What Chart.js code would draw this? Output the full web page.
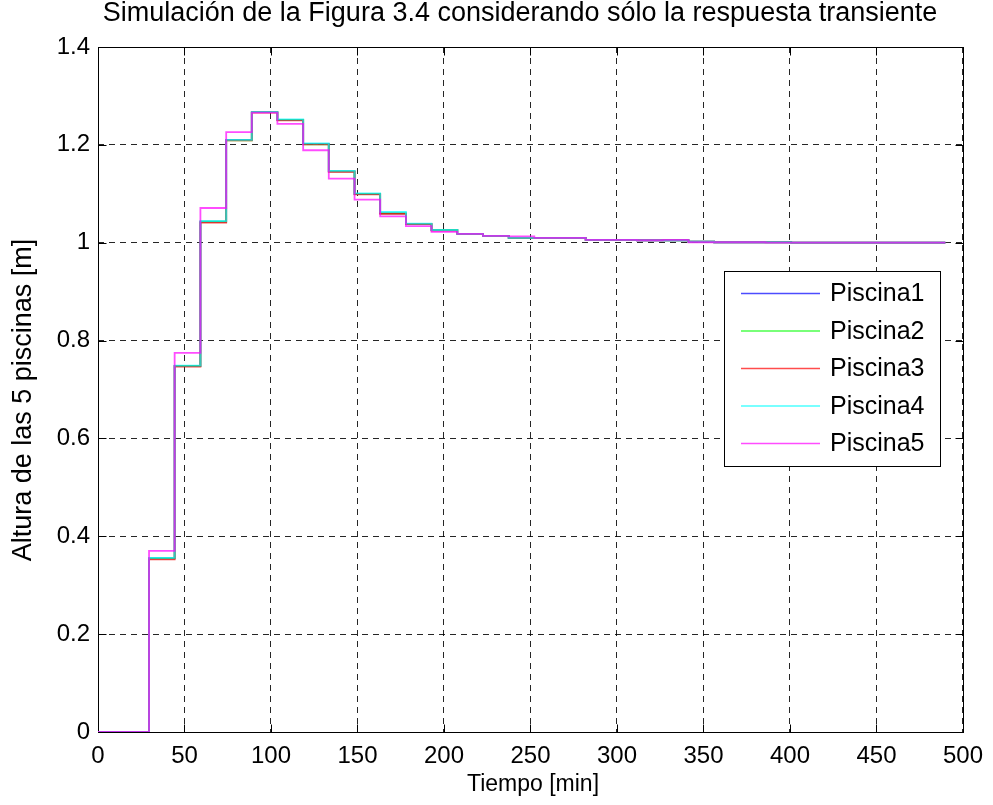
<!DOCTYPE html>
<html>
<head>
<meta charset="utf-8">
<script src="https://cdn.jsdelivr.net/npm/chart.js@4.4.1/dist/chart.umd.min.js"></script>
<style>
  html, body { margin: 0; padding: 0; background: #fff; overflow: hidden; }
  canvas { display: block; }
</style>
</head>
<body>
<canvas id="grafico" width="993" height="805"></canvas>
<script>
// Instantes de muestreo [min] (escalones de la simulación)
const tiempo = [0, 29.5, 44.3, 59.2, 74.1, 88.9, 103.7, 118.6, 133.4, 148.3, 163.1,
  178.0, 192.8, 207.7, 222.5, 237.4, 252.2, 267.1, 281.9, 296.8, 311.6, 326.5,
  341.3, 356.2, 371.0, 385.9, 400.7, 415.6, 430.4, 445.3, 460.1, 475.0, 489.8];

// Altura de cada piscina [m]
const piscina1 = [0, 0.355, 0.748, 1.043, 1.210, 1.267, 1.251, 1.202, 1.146, 1.100, 1.060,
  1.038, 1.026, 1.018, 1.014, 1.010, 1.010, 1.010, 1.006, 1.006, 1.005, 1.005,
  1.002, 1.001, 1.001, 1.001, 1.000, 1.000, 1.000, 1.000, 1.000, 1.000, 1.000];
const piscina2 = [0, 0.355, 0.748, 1.043, 1.209, 1.267, 1.251, 1.201, 1.146, 1.100, 1.060,
  1.038, 1.026, 1.018, 1.014, 1.010, 1.010, 1.010, 1.006, 1.006, 1.005, 1.005,
  1.002, 1.001, 1.001, 1.001, 1.000, 1.000, 1.000, 1.000, 1.000, 1.000, 1.000];
const piscina3 = [0, 0.353, 0.747, 1.041, 1.209, 1.266, 1.250, 1.201, 1.145, 1.099, 1.059,
  1.038, 1.025, 1.018, 1.014, 1.010, 1.010, 1.010, 1.006, 1.006, 1.005, 1.005,
  1.002, 1.001, 1.001, 1.001, 1.000, 1.000, 1.000, 1.000, 1.000, 1.000, 1.000];
const piscina4 = [0, 0.356, 0.749, 1.044, 1.210, 1.267, 1.252, 1.203, 1.147, 1.101, 1.063,
  1.039, 1.026, 1.018, 1.014, 1.010, 1.010, 1.010, 1.006, 1.006, 1.005, 1.005,
  1.002, 1.001, 1.001, 1.001, 1.000, 1.000, 1.000, 1.000, 1.000, 1.000, 1.000];
const piscina5 = [0, 0.370, 0.775, 1.071, 1.226, 1.266, 1.243, 1.189, 1.131, 1.088, 1.054,
  1.034, 1.022, 1.018, 1.014, 1.013, 1.010, 1.010, 1.006, 1.006, 1.005, 1.006,
  1.001, 1.001, 1.001, 1.000, 1.000, 1.000, 1.000, 1.000, 1.000, 1.000, 1.000];

const nombresSeries = ['Piscina1', 'Piscina2', 'Piscina3', 'Piscina4', 'Piscina5'];
const coloresSeries = ['rgba(0,0,255,0.7)', 'rgba(0,255,0,0.7)', 'rgba(255,0,0,0.7)',
  'rgba(0,255,255,0.7)', 'rgba(255,0,255,0.7)'];

const etiquetasX = ['0', '50', '100', '150', '200', '250', '300', '350', '400', '450', '500'];
const etiquetasY = ['0', '0.2', '0.4', '0.6', '0.8', '1', '1.2', '1.4'];

const tituloGrafico = 'Simulación de la Figura 3.4 considerando sólo la respuesta transiente';
const tituloEjeX = 'Tiempo [min]';
const tituloEjeY = 'Altura de las 5 piscinas [m]';

const FUENTE = '"Liberation Sans", Arial, Helvetica, sans-serif';

const valores = [piscina1, piscina2, piscina3, piscina4, piscina5];
const datasets = valores.map((serie, i) => ({
  label: nombresSeries[i],
  data: tiempo.map((t, k) => ({ x: t, y: serie[k] })),
  borderColor: coloresSeries[i],
  backgroundColor: coloresSeries[i],
  borderWidth: 1.8,
  stepped: 'before',
  pointRadius: 0,
  pointHoverRadius: 0,
  fill: false,
  order: nombresSeries.length - i   // la última serie queda encima
}));

// Marco tipo MATLAB: caja con marcas interiores (bajo las curvas), títulos y leyenda
const marcoPlugin = {
  id: 'marco',
  beforeDatasetsDraw(chart) {
    const ctx = chart.ctx;
    const a = chart.chartArea;
    const sx = chart.scales.x, sy = chart.scales.y;
    const L = Math.round(a.left) + 0.5, R = Math.round(a.right) + 0.5;
    const T = Math.round(a.top) + 0.5, B = Math.round(a.bottom) + 0.5;
    ctx.save();
    ctx.strokeStyle = '#000';
    ctx.lineWidth = 1;
    ctx.setLineDash([]);
    ctx.strokeRect(L, T, R - L, B - T);
    const largo = 8;
    ctx.beginPath();
    sx.ticks.forEach(tk => {
      const px = Math.round(sx.getPixelForValue(tk.value)) + 0.5;
      ctx.moveTo(px, B); ctx.lineTo(px, B - largo);
      ctx.moveTo(px, T); ctx.lineTo(px, T + largo);
    });
    sy.ticks.forEach(tk => {
      const py = Math.round(sy.getPixelForValue(tk.value)) + 0.5;
      ctx.moveTo(L, py); ctx.lineTo(L + largo, py);
      ctx.moveTo(R, py); ctx.lineTo(R - largo, py);
    });
    ctx.stroke();
    ctx.restore();
  },
  afterDraw(chart) {
    const ctx = chart.ctx;
    ctx.save();
    // títulos
    ctx.fillStyle = '#000';
    ctx.textAlign = 'center';
    ctx.textBaseline = 'middle';
    ctx.font = '27px ' + FUENTE;
    ctx.fillText(tituloGrafico, 520, 14);
    ctx.font = '23px ' + FUENTE;
    ctx.fillText(tituloEjeX, 533, 785);
    ctx.save();
    ctx.translate(24, 400);
    ctx.rotate(-Math.PI / 2);
    ctx.font = '27px ' + FUENTE;
    ctx.fillText(tituloEjeY, 0, 0);
    ctx.restore();

    // leyenda
    const lx = 724.5, ly = 271.5, lw = 216, lh = 195;
    ctx.fillStyle = '#fff';
    ctx.fillRect(lx, ly, lw, lh);
    ctx.strokeStyle = '#000';
    ctx.lineWidth = 1;
    ctx.strokeRect(lx, ly, lw, lh);
    ctx.font = '25px ' + FUENTE;
    ctx.textAlign = 'left';
    chart.data.datasets.forEach((ds, i) => {
      const yy = 293.5 + i * 37.5;
      ctx.strokeStyle = ds.borderColor;
      ctx.lineWidth = 1.6;
      ctx.beginPath();
      ctx.moveTo(741, yy); ctx.lineTo(820, yy);
      ctx.stroke();
      ctx.fillStyle = '#000';
      ctx.fillText(ds.label, 830, yy + 1);
    });
    ctx.restore();
  }
};

new Chart(document.getElementById('grafico'), {
  type: 'line',
  data: { datasets },
  options: {
    responsive: false,
    devicePixelRatio: 1,
    animation: false,
    events: [],
    layout: { padding: { top: 47, right: 24, bottom: 0, left: 0 } },
    plugins: { legend: { display: false }, title: { display: false }, tooltip: { enabled: false } },
    scales: {
      x: {
        type: 'linear',
        min: 0, max: 500,
        afterFit: s => { s.height = 73; },
        ticks: {
          stepSize: 50,
          padding: 10,
          color: '#000',
          font: { family: FUENTE, size: 24 },
          maxRotation: 0,
          callback: (v, i) => etiquetasX[i]
        },
        grid: { color: 'rgba(0,0,0,0.85)', lineWidth: 1, drawTicks: false },
        border: { display: false, dash: [6, 5] }
      },
      y: {
        type: 'linear',
        min: 0, max: 1.4,
        afterFit: s => { s.width = 98; },
        ticks: {
          stepSize: 0.2,
          padding: 8,
          color: '#000',
          font: { family: FUENTE, size: 24 },
          callback: (v, i) => etiquetasY[i]
        },
        grid: { color: 'rgba(0,0,0,0.85)', lineWidth: 1, drawTicks: false },
        border: { display: false, dash: [6, 5] }
      }
    }
  },
  plugins: [marcoPlugin]
});
</script>
</body>
</html>
